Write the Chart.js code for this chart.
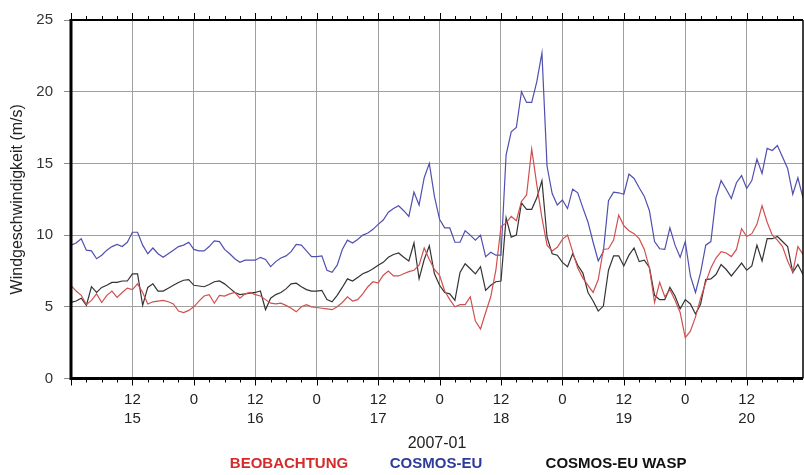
<!DOCTYPE html>
<html>
<head>
<meta charset="utf-8">
<script src="https://cdn.jsdelivr.net/npm/chart.js@4.4.0/dist/chart.umd.min.js"></script>
<style>
  html, body { margin: 0; padding: 0; background: #fff; overflow: hidden; }
  canvas { display: block; }
</style>
</head>
<body>
<canvas id="chart1" width="804" height="475"></canvas>
<script>
// hourly values, 2007-01-15 00:00 .. 2007-01-20 23:00 (hour index 0..143)
const seriesNames = ["BEOBACHTUNG", "COSMOS-EU", "COSMOS-EU WASP"];
const dayLabels = ["15", "16", "17", "18", "19", "20"];
const yTicks = [0, 5, 10, 15, 20, 25];

const beobachtung = [
  6.5, 6.1, 5.8, 5.15, 5.45, 5.9, 5.3, 5.8, 6.1, 5.65, 6.0, 6.3, 6.2, 6.6, 6.0, 5.2, 5.35, 5.4, 5.45, 5.35, 5.2, 4.7, 4.6, 4.75,
  5.0, 5.4, 5.75, 5.85, 5.25, 5.8, 5.75, 5.9, 6.0, 5.6, 5.9, 6.0, 5.85, 5.75, 5.5, 5.25, 5.2, 5.25, 5.1, 4.9, 4.65, 5.0, 5.15, 5.0,
  4.95, 4.9, 4.85, 4.8, 5.0, 5.3, 5.7, 5.4, 5.5, 5.9, 6.4, 6.75, 6.65, 7.2, 7.5, 7.15, 7.15, 7.3, 7.45, 7.55, 7.9, 9.1, 8.3, 7.6,
  7.2, 6.1, 5.5, 5.0, 5.15, 5.15, 5.7, 4.0, 3.45, 4.6, 5.7, 7.55, 10.6, 10.85, 11.3, 11.0, 12.35, 12.8, 16.0, 13.5, 11.2, 9.3, 8.9, 9.15,
  9.7, 10.0, 8.85, 7.7, 7.0, 6.5, 6.0, 6.9, 9.0, 9.05, 9.65, 11.4, 10.65, 10.3, 10.1, 9.75, 9.0, 7.7, 5.3, 6.7, 5.7, 6.2, 5.45, 4.6,
  2.85, 3.3, 4.3, 5.6, 6.7, 7.7, 8.4, 8.85, 8.75, 8.5, 9.0, 10.45, 9.9, 10.1, 10.75, 12.05, 10.9, 10.0, 9.65, 9.2, 8.2, 7.4, 9.2, 8.65
];
const cosmosEu = [
  9.3, 9.45, 9.75, 8.95, 8.9, 8.35, 8.6, 8.95, 9.2, 9.35, 9.2, 9.5, 10.2, 10.2, 9.3, 8.7, 9.1, 8.7, 8.45, 8.7, 8.95, 9.2, 9.3, 9.5,
  9.0, 8.9, 8.9, 9.2, 9.6, 9.55, 9.0, 8.7, 8.35, 8.1, 8.25, 8.25, 8.25, 8.45, 8.3, 7.8, 8.15, 8.4, 8.55, 8.85, 9.35, 9.3, 8.9, 8.5,
  8.5, 8.55, 7.55, 7.4, 7.9, 9.0, 9.65, 9.45, 9.7, 10.0, 10.15, 10.4, 10.75, 11.05, 11.6, 11.85, 12.05, 11.7, 11.3, 13.0, 12.1, 14.0, 15.0, 12.7,
  11.1, 10.5, 10.5, 9.5, 9.5, 10.3, 10.0, 9.65, 10.0, 8.5, 8.8, 8.6, 8.6, 15.6, 17.2, 17.5, 20.0, 19.25, 19.25, 20.7, 22.7, 14.8, 12.9, 12.1,
  12.45, 11.85, 13.2, 12.95, 11.9, 10.9, 9.5, 8.2, 8.85, 12.4, 13.0, 12.95, 12.85, 14.25, 13.95, 13.3, 12.7, 11.7, 9.55, 9.05, 9.0, 10.5, 9.3, 8.45,
  9.55, 7.15, 6.0, 7.4, 9.3, 9.55, 12.6, 13.8, 13.2, 12.55, 13.65, 14.15, 13.25, 13.8, 15.3, 14.3, 16.05, 15.9, 16.25, 15.45, 14.65, 12.85, 14.0, 12.6
];
const cosmosEuWasp = [
  5.3, 5.4, 5.6, 5.1, 6.4, 6.0, 6.35, 6.5, 6.7, 6.7, 6.8, 6.8, 7.3, 7.3, 5.1, 6.35, 6.6, 6.1, 6.1, 6.3, 6.5, 6.7, 6.85, 6.9,
  6.5, 6.45, 6.4, 6.55, 6.75, 6.8, 6.6, 6.3, 6.0, 5.85, 5.9, 5.95, 6.0, 6.1, 4.8, 5.6, 5.85, 6.0, 6.25, 6.6, 6.65, 6.4, 6.2, 6.1,
  6.1, 6.15, 5.5, 5.35, 5.8, 6.35, 6.95, 6.8, 7.05, 7.3, 7.45, 7.65, 7.9, 8.1, 8.45, 8.65, 8.75, 8.45, 8.2, 9.45, 6.95, 8.3, 9.25, 7.3,
  6.5, 6.0, 5.9, 5.45, 7.4, 8.0, 7.65, 7.3, 7.8, 6.15, 6.5, 6.75, 6.8, 11.2, 9.85, 10.0, 12.25, 11.8, 11.8, 12.6, 13.8, 9.85, 8.7, 8.6,
  8.1, 7.8, 8.7, 7.9, 7.35, 6.0, 5.4, 4.7, 5.05, 7.55, 8.55, 8.55, 7.85, 8.6, 9.1, 8.15, 8.25, 7.75, 5.8, 5.5, 5.5, 6.35, 5.75, 4.85,
  5.5, 5.2, 4.5, 5.2, 6.9, 6.95, 7.25, 7.95, 7.6, 7.15, 7.6, 8.05, 7.55, 7.85, 9.3, 8.2, 9.75, 9.75, 9.9, 9.55, 9.2, 7.4, 7.95, 7.25
];

const toPoints = arr => arr.map((v, i) => ({ x: i, y: v }));

Chart.defaults.font.family = "'Liberation Sans', Arial, sans-serif";
Chart.defaults.color = "#333";

const GRID = "#a0a0a0";

// frame, hour ticks on top/bottom, and the coloured legend line under the axis title
const framePlugin = {
  id: "frame",
  afterDraw(chart) {
    const ctx = chart.ctx;
    const a = chart.chartArea;
    const xs = chart.scales.x;
    ctx.save();
    ctx.strokeStyle = "#000";
    ctx.lineWidth = 1;
    for (let h = 0; h <= 143; h += 3) {
      const px = Math.round(xs.getPixelForValue(h)) + 0.5;
      const len = h % 12 === 0 ? 7 : 4;
      ctx.beginPath();
      ctx.moveTo(px, a.bottom); ctx.lineTo(px, a.bottom + len);
      ctx.moveTo(px, a.top); ctx.lineTo(px, a.top - len);
      ctx.stroke();
    }
    ctx.lineWidth = 1.5;
    ctx.beginPath();
    ctx.moveTo(a.right, a.top); ctx.lineTo(a.right, a.bottom);
    ctx.stroke();
    ctx.lineWidth = 2;
    ctx.beginPath();
    ctx.moveTo(a.left, a.top); ctx.lineTo(a.right, a.top);
    ctx.stroke();
    ctx.lineWidth = 3;
    ctx.beginPath();
    ctx.moveTo(a.left, a.top - 1); ctx.lineTo(a.left, a.bottom); ctx.lineTo(a.right, a.bottom);
    ctx.stroke();

    const centers = [289, 436, 616];
    const colors = ["#d42a2a", "#2c3b9c", "#111111"];
    ctx.font = "bold 15px 'Liberation Sans', Arial, sans-serif";
    ctx.textAlign = "center";
    ctx.textBaseline = "middle";
    chart.data.datasets.forEach((ds, i) => {
      ctx.fillStyle = colors[i];
      ctx.fillText(ds.label, centers[i], 464);
    });
    ctx.restore();
  }
};

new Chart(document.getElementById("chart1"), {
  type: "line",
  data: {
    datasets: [
      { label: seriesNames[0], data: toPoints(beobachtung), borderColor: "#d0504f", borderWidth: 1.2 },
      { label: seriesNames[1], data: toPoints(cosmosEu), borderColor: "#4f4fb0", borderWidth: 1.2 },
      { label: seriesNames[2], data: toPoints(cosmosEuWasp), borderColor: "#333333", borderWidth: 1.2 }
    ]
  },
  options: {
    responsive: false,
    devicePixelRatio: 1,
    animation: false,
    events: [],
    elements: { point: { radius: 0 }, line: { tension: 0 } },
    layout: { padding: { top: 13, right: 1, bottom: 20, left: 0 } },
    plugins: { legend: { display: false }, tooltip: { enabled: false } },
    scales: {
      x: {
        type: "linear",
        min: 0,
        max: 143,
        afterFit(scale) { scale.height = 76.5; },
        border: { display: false },
        grid: {
          drawTicks: true,
          tickLength: 12,
          tickColor: "transparent",
          color: c => (c.tick && c.tick.value % 12 === 0 && c.tick.value > 0) ? GRID : "transparent",
          lineWidth: 1
        },
        ticks: {
          stepSize: 3,
          autoSkip: false,
          maxRotation: 0,
          padding: 0,
          color: "#222",
          font: { size: 15, lineHeight: 1.27 },
          callback: v => {
            if (v % 12 !== 0 || v === 0) return "";
            if (v % 24 === 12) return ["12", dayLabels[Math.floor(v / 24)]];
            return ["0", ""];
          }
        },
        title: {
          display: true,
          text: "2007-01",
          color: "#222",
          font: { size: 16, lineHeight: 1.2 },
          padding: { top: 0, bottom: 1.4 }
        }
      },
      y: {
        min: yTicks[0],
        max: yTicks[yTicks.length - 1],
        afterFit(scale) { scale.width = 71; },
        afterBuildTicks(scale) { scale.ticks = yTicks.map(v => ({ value: v })); },
        border: { display: false },
        grid: { color: GRID, lineWidth: 1, tickLength: 7, tickColor: "#8a8a8a" },
        ticks: { padding: 11, color: "#333", font: { size: 15 } },
        title: {
          display: true,
          text: "Windgeschwindigkeit (m/s)",
          color: "#222",
          font: { size: 16, lineHeight: 1.2 },
          padding: { top: 8, bottom: 0 },
          align: "center"
        }
      }
    }
  },
  plugins: [framePlugin]
});
</script>
</body>
</html>
